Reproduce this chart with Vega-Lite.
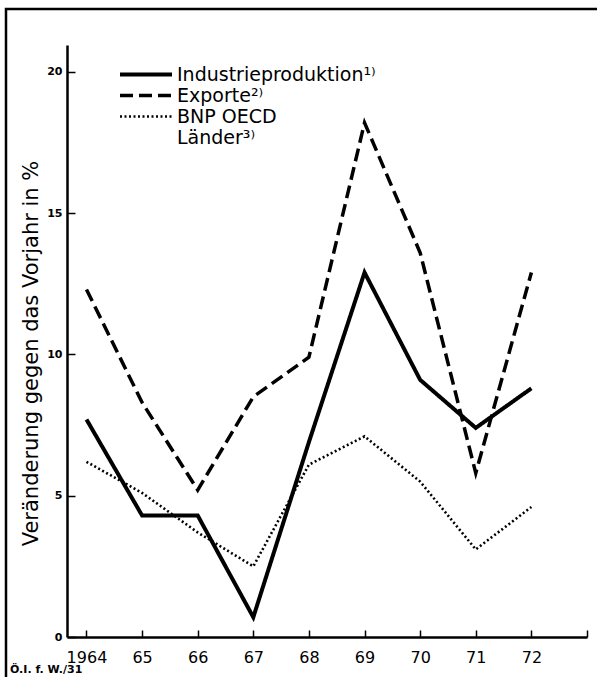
{
  "$schema": "https://vega.github.io/schema/vega-lite/v6.json",
  "width": 600,
  "height": 670,
  "autosize": {"type": "none"},
  "padding": {"left": 6, "top": 9, "right": 0, "bottom": 0},
  "background": "white",
  "title": {
    "text": "Ö.I. f. W./31",
    "orient": "bottom",
    "anchor": "start",
    "frame": "group",
    "offset": -15,
    "dx": 4,
    "fontSize": 11,
    "fontWeight": "bold",
    "baseline": "top",
    "color": "black"
  },
  "data": {
    "values": [
      {"series": "Industrieproduktion¹⁾", "year": 1964, "value": 7.7},
      {"series": "Industrieproduktion¹⁾", "year": 1965, "value": 4.3},
      {"series": "Industrieproduktion¹⁾", "year": 1966, "value": 4.3},
      {"series": "Industrieproduktion¹⁾", "year": 1967, "value": 0.7},
      {"series": "Industrieproduktion¹⁾", "year": 1968, "value": 6.9},
      {"series": "Industrieproduktion¹⁾", "year": 1969, "value": 12.9},
      {"series": "Industrieproduktion¹⁾", "year": 1970, "value": 9.1},
      {"series": "Industrieproduktion¹⁾", "year": 1971, "value": 7.4},
      {"series": "Industrieproduktion¹⁾", "year": 1972, "value": 8.8},
      {"series": "Exporte²⁾", "year": 1964, "value": 12.3},
      {"series": "Exporte²⁾", "year": 1965, "value": 8.3},
      {"series": "Exporte²⁾", "year": 1966, "value": 5.2},
      {"series": "Exporte²⁾", "year": 1967, "value": 8.5},
      {"series": "Exporte²⁾", "year": 1968, "value": 9.9},
      {"series": "Exporte²⁾", "year": 1969, "value": 18.2},
      {"series": "Exporte²⁾", "year": 1970, "value": 13.6},
      {"series": "Exporte²⁾", "year": 1971, "value": 5.8},
      {"series": "Exporte²⁾", "year": 1972, "value": 12.9},
      {"series": "BNP OECD Länder³⁾", "year": 1964, "value": 6.2},
      {"series": "BNP OECD Länder³⁾", "year": 1965, "value": 5.1},
      {"series": "BNP OECD Länder³⁾", "year": 1966, "value": 3.7},
      {"series": "BNP OECD Länder³⁾", "year": 1967, "value": 2.5},
      {"series": "BNP OECD Länder³⁾", "year": 1968, "value": 6.1},
      {"series": "BNP OECD Länder³⁾", "year": 1969, "value": 7.1},
      {"series": "BNP OECD Länder³⁾", "year": 1970, "value": 5.5},
      {"series": "BNP OECD Länder³⁾", "year": 1971, "value": 3.1},
      {"series": "BNP OECD Länder³⁾", "year": 1972, "value": 4.6}
    ]
  },
  "mark": {"type": "line", "color": "black", "strokeJoin": "miter", "strokeCap": "butt"},
  "encoding": {
    "x": {
      "field": "year",
      "type": "quantitative",
      "scale": {"domain": [1963.65, 1973], "range": [61, 581], "nice": false, "zero": false},
      "axis": {
        "values": [1964, 1965, 1966, 1967, 1968, 1969, 1970, 1971, 1972, 1973],
        "format": "d",
        "labelExpr": "datum.value == 1964 ? '1964' : datum.value > 1972 ? '' : slice(datum.label, 2)",
        "offset": -42,
        "tickSize": -7,
        "tickWidth": 1.5,
        "tickColor": "black",
        "domainColor": "black",
        "domainWidth": 2.5,
        "labelFontSize": 16,
        "labelColor": "black",
        "labelPadding": 19,
        "labelFlush": false,
        "labelOverlap": false,
        "grid": false,
        "title": null
      }
    },
    "y": {
      "field": "value",
      "type": "quantitative",
      "scale": {"domain": [0, 20.95], "range": [628, 36], "nice": false, "zero": false},
      "axis": {
        "values": [0, 5, 10, 15, 20],
        "offset": -61,
        "tickSize": -8,
        "tickWidth": 1.5,
        "tickColor": "black",
        "domainColor": "black",
        "domainWidth": 2.5,
        "labelFontSize": 11,
        "labelFontWeight": "bold",
        "labelColor": "black",
        "labelPadding": 13,
        "grid": false,
        "title": "Veränderung gegen das Vorjahr in %",
        "titleFontSize": 21,
        "titleFontWeight": "normal",
        "titleColor": "black",
        "titleX": -36,
        "titleY": 344,
        "titleAngle": -90,
        "titleAlign": "center",
        "titleBaseline": "middle"
      }
    },
    "strokeDash": {
      "field": "series",
      "type": "nominal",
      "scale": {
        "domain": ["Industrieproduktion¹⁾", "Exporte²⁾", "BNP OECD Länder³⁾"],
        "range": [[1, 0], [13, 6], [2, 2.5]]
      },
      "legend": {
        "title": null,
        "orient": "none",
        "legendX": 112,
        "legendY": 56,
        "symbolType": "stroke",
        "symbolSize": 2704,
        "symbolStrokeColor": "black",
        "clipHeight": 19,
        "rowPadding": 1,
        "padding": 0,
        "labelOffset": 3,
        "labelFontSize": 19,
        "labelColor": "black",
        "labelLimit": 400,
        "labelExpr": "datum.label == 'BNP OECD Länder³⁾' ? ['BNP OECD', 'Länder³⁾'] : datum.label"
      }
    },
    "strokeWidth": {
      "field": "series",
      "type": "nominal",
      "scale": {
        "type": "ordinal",
        "domain": ["Industrieproduktion¹⁾", "Exporte²⁾", "BNP OECD Länder³⁾"],
        "range": [4, 3.5, 2.6]
      },
      "legend": {
        "title": null,
        "orient": "none",
        "legendX": 112,
        "legendY": 56,
        "symbolType": "stroke",
        "symbolSize": 2704,
        "symbolStrokeColor": "black",
        "clipHeight": 19,
        "rowPadding": 1,
        "padding": 0,
        "labelOffset": 3,
        "labelFontSize": 19,
        "labelColor": "black",
        "labelLimit": 400,
        "labelExpr": "datum.label == 'BNP OECD Länder³⁾' ? ['BNP OECD', 'Länder³⁾'] : datum.label"
      }
    }
  },
  "config": {
    "view": {"stroke": "black", "strokeWidth": 2.5},
    "font": "DejaVu Sans"
  }
}
